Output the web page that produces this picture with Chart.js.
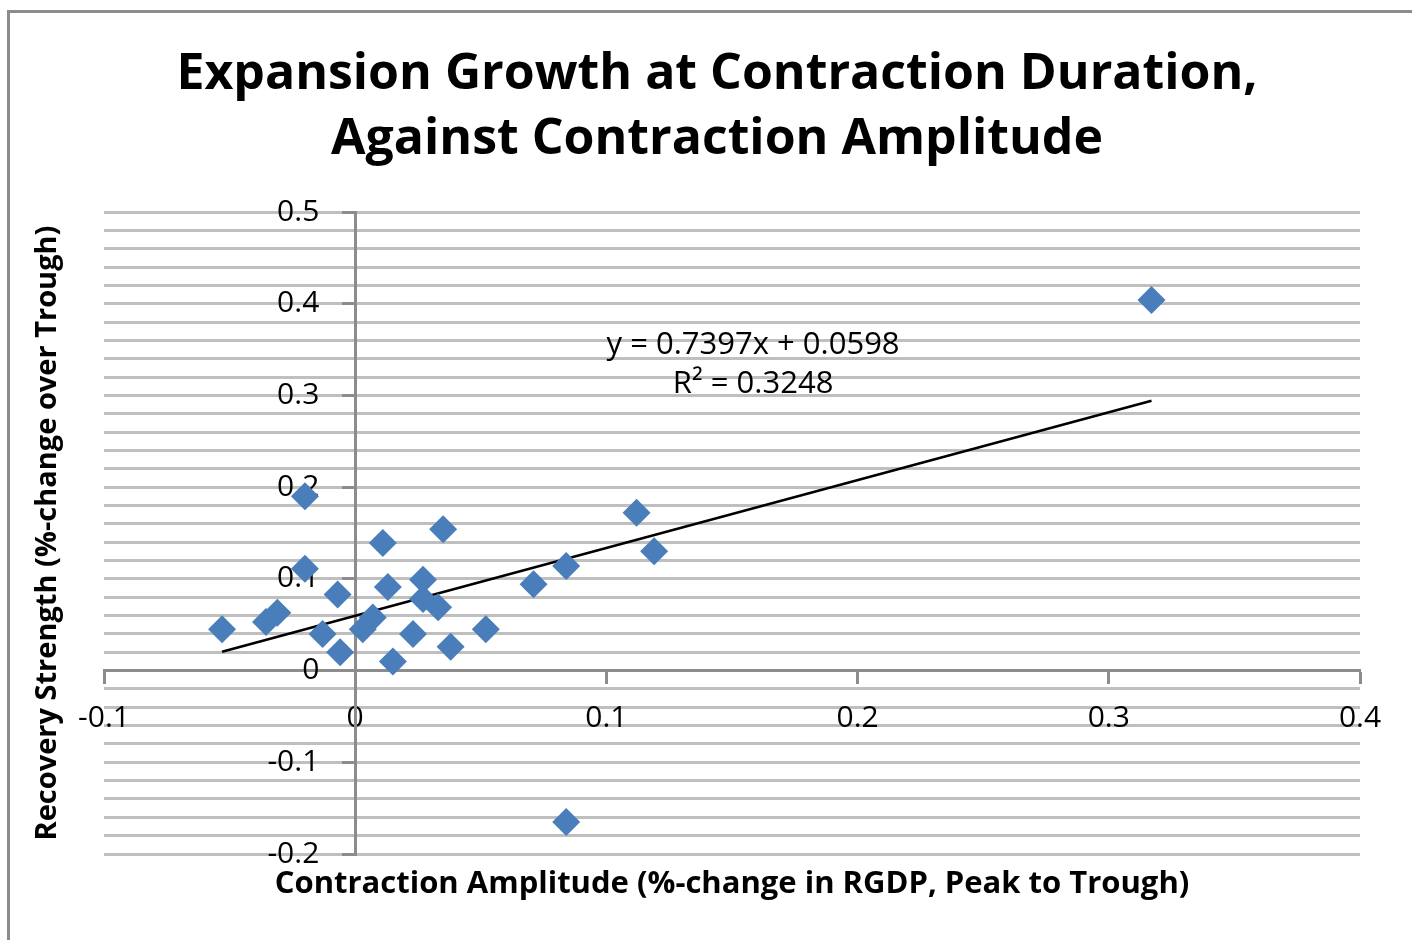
<!DOCTYPE html>
<html>
<head>
<meta charset="utf-8">
<script src="https://cdn.jsdelivr.net/npm/chart.js@4.4.1/dist/chart.umd.min.js"></script>
<style>
  html, body { margin: 0; padding: 0; background: #fff; overflow: hidden; }
  #frame { position: absolute; left: 7px; top: 10px; width: 1420px; height: 950px;
           border-left: 3px solid #8c8c8c; border-top: 3px solid #8c8c8c; }
  #wrap { position: absolute; left: 0; top: 0; width: 1412px; height: 940px; }
</style>
</head>
<body>
<div id="frame"></div>
<div id="wrap"><canvas id="chart" width="1412" height="940"></canvas></div>
<script>
// contraction amplitude (x) and recovery strength (y)
var amplitude = [-0.053, -0.0355, -0.031, -0.020, -0.020, -0.013, -0.007, -0.006, 0.003, 0.007,
                 0.011, 0.013, 0.015, 0.023, 0.027, 0.027, 0.033, 0.035, 0.038, 0.052,
                 0.071, 0.084, 0.084, 0.112, 0.119, 0.317];
var recovery  = [0.045, 0.053, 0.063, 0.190, 0.111, 0.040, 0.083, 0.020, 0.045, 0.058,
                 0.139, 0.091, 0.010, 0.040, 0.078, 0.099, 0.069, 0.154, 0.026, 0.045,
                 0.094, 0.114, -0.165, 0.172, 0.130, 0.404];

// excel linear trendline, as printed on the chart
var trendSlope = 0.7397;
var trendIntercept = 0.0598;
var trendText = ['y = 0.7397x + 0.0598', 'R\u00b2 = 0.3248'];

var xTicks = [-0.1, 0, 0.1, 0.2, 0.3, 0.4];
var yTicks = [-0.2, -0.1, 0, 0.1, 0.2, 0.3, 0.4, 0.5];

var titleLines = ['Expansion Growth at Contraction Duration,', 'Against Contraction Amplitude'];
var xTitle = 'Contraction Amplitude (%-change in RGDP, Peak to Trough)';
var yTitle = 'Recovery Strength (%-change over Trough)';

var FONT = '"Open Sans", Lato, sans-serif';

var points = amplitude.map(function (x, i) { return {x: x, y: recovery[i]}; });
var xMin = Math.min.apply(null, amplitude);
var xMax = Math.max.apply(null, amplitude);
var trendPoints = [
    {x: xMin, y: trendSlope * xMin + trendIntercept},
    {x: xMax, y: trendSlope * xMax + trendIntercept}
];

function fmt(v) {
    var r = Math.round(v * 10) / 10;
    return r === 0 ? '0' : String(r);
}
function isMajor(v) {
    return Math.round(v * 50) % 5 === 0;
}

// equation + R² label next to the trendline
const trendLabel = {
    id: 'trendLabel',
    afterDatasetsDraw(chart, args, opts) {
        const { ctx, scales } = chart;
        const x = scales.x.getPixelForValue(opts.x);
        ctx.save();
        ctx.fillStyle = '#000';
        ctx.font = '31px ' + FONT;
        ctx.textAlign = 'center';
        ctx.textBaseline = 'middle';
        trendText.forEach(function (t, i) {
            ctx.fillText(t, x, scales.y.getPixelForValue(opts.y[i]));
        });
        ctx.restore();
    }
};

const config = {
    type: 'scatter',
    data: {
        datasets: [{
            label: 'Recovery',
            data: points,
            xAxisID: 'x',
            yAxisID: 'y',
            pointStyle: 'rectRot',
            pointRadius: 14,
            pointHoverRadius: 14,
            backgroundColor: '#4A7EBB',
            borderColor: '#4A7EBB',
            borderWidth: 0
        }, {
            label: 'Trend',
            type: 'line',
            data: trendPoints,
            xAxisID: 'x',
            yAxisID: 'y',
            borderColor: '#000',
            borderWidth: 2.5,
            pointRadius: 0,
            fill: false
        }]
    },
    options: {
        responsive: false,
        animation: false,
        layout: { padding: { left: 22, right: 0, top: 0, bottom: 0 } },
        plugins: {
            legend: { display: false },
            tooltip: { enabled: false },
            title: {
                display: true,
                text: titleLines,
                color: '#000',
                font: { family: FONT, size: 50, weight: 'bold', lineHeight: 65 / 50 },
                padding: { top: 42, bottom: 40 }
            },
            trendLabel: { x: 0.1584, y: [0.355, 0.312] }
        },
        scales: {
            x: {
                type: 'linear',
                position: { y: 0 },
                min: -0.1,
                max: 0.4,
                afterBuildTicks: function (axis) {
                    axis.ticks = xTicks.map(function (v) { return {value: v}; });
                },
                ticks: {
                    color: '#000',
                    font: { family: FONT, size: 30 },
                    padding: 18,
                    maxRotation: 0,
                    callback: function (v) { return fmt(v); }
                },
                grid: { drawOnChartArea: false, drawTicks: true, tickLength: 12, tickWidth: 3, tickColor: '#8c8c8c' },
                border: { display: true, color: '#8c8c8c', width: 3 }
            },
            // grid every 0.02, axis line at x = 0
            y: {
                type: 'linear',
                position: { x: 0 },
                min: -0.2,
                max: 0.5,
                ticks: { stepSize: 0.02, autoSkip: false, display: false },
                grid: {
                    drawOnChartArea: true,
                    drawTicks: true,
                    tickLength: 12,
                    tickWidth: 3,
                    lineWidth: 3,
                    color: function (c) { return c.tick && Math.abs(c.tick.value) < 1e-9 ? '#8c8c8c' : '#bfbfbf'; },
                    tickColor: function (c) {
                        return c.tick && isMajor(c.tick.value) ? '#8c8c8c' : 'rgba(0,0,0,0)';
                    }
                },
                border: { display: true, color: '#8c8c8c', width: 3 }
            },
            // the y tick labels, set a little left of the axis line
            yLabels: {
                type: 'linear',
                position: { x: -0.0143 },
                min: -0.2,
                max: 0.5,
                afterBuildTicks: function (axis) {
                    axis.ticks = yTicks.map(function (v) { return {value: v}; });
                },
                ticks: {
                    color: '#000',
                    font: { family: FONT, size: 30 },
                    callback: function (v) { return fmt(v); }
                },
                grid: { display: false, drawTicks: false },
                border: { display: false }
            },
            xTitle: {
                type: 'linear',
                position: 'bottom',
                min: 0, max: 1,
                ticks: { display: false },
                grid: { display: false, drawTicks: false },
                border: { display: false },
                title: {
                    display: true,
                    text: xTitle,
                    color: '#000',
                    font: { family: FONT, size: 31, weight: 'bold', lineHeight: 1.2 },
                    padding: { top: 11.4, bottom: 37.4 }
                }
            },
            yTitle: {
                type: 'linear',
                position: 'left',
                min: 0, max: 1,
                ticks: { display: false },
                grid: { display: false, drawTicks: false },
                border: { display: false },
                title: {
                    display: true,
                    text: yTitle,
                    color: '#000',
                    font: { family: FONT, size: 29, weight: 'bold', lineHeight: 1.2 },
                    padding: { top: 8.6, bottom: 38.6 }
                }
            },
            yRight: {
                type: 'linear',
                position: 'right',
                min: 0, max: 1,
                ticks: { display: false },
                grid: { display: false, drawTicks: false },
                border: { display: false },
                title: { display: true, text: '', font: { size: 10, lineHeight: 1 }, padding: { top: 0, bottom: 42 } }
            }
        }
    },
    plugins: [trendLabel]
};

const ctx = document.getElementById('chart').getContext('2d');
new Chart(ctx, config);
</script>
</body>
</html>
